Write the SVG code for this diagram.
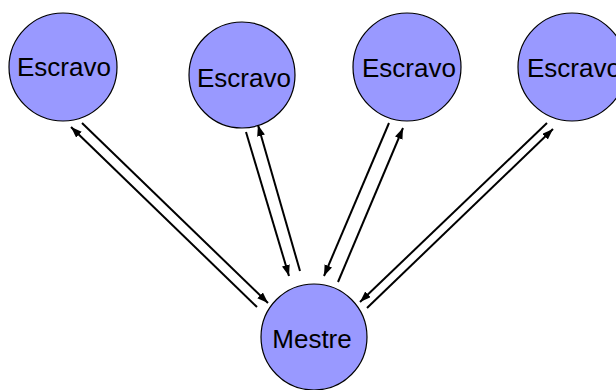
<svg xmlns="http://www.w3.org/2000/svg" width="616" height="390" viewBox="0 0 616 390">
<style>
.node circle{fill:#9999ff;stroke:#000;stroke-width:1.2}
.node text{font-family:"Liberation Sans",Arial,sans-serif;font-size:26px;fill:#000;text-anchor:middle}
.conn line{stroke:#000;stroke-width:2;marker-end:url(#ah)}
</style>
<defs>
<marker id="ah" markerUnits="userSpaceOnUse" markerWidth="12" markerHeight="9" refX="11" refY="4" orient="auto">
<path d="M0,0 L11,4 L0,8 Z" fill="#000"/>
</marker>
</defs>
<rect width="616" height="390" fill="#fff"/>
<g class="conn">
<line x1="257" y1="307" x2="71" y2="127"/>
<line x1="82" y1="123" x2="268" y2="303"/>
<line x1="246" y1="132" x2="289" y2="276"/>
<line x1="300" y1="271" x2="258" y2="125"/>
<line x1="389" y1="123" x2="324" y2="276"/>
<line x1="338" y1="282" x2="403" y2="128"/>
<line x1="547" y1="123" x2="360" y2="302"/>
<line x1="367" y1="308" x2="553" y2="129"/>
</g>
<g id="escravo1" class="node"><circle cx="63" cy="67" r="54"/><text x="64" y="76">Escravo</text></g>
<g id="escravo2" class="node"><circle cx="242" cy="75" r="53"/><text x="244" y="87">Escravo</text></g>
<g id="escravo3" class="node"><circle cx="407" cy="67" r="54"/><text x="409" y="77">Escravo</text></g>
<g id="escravo4" class="node"><circle cx="572" cy="67" r="54"/><text x="574" y="77">Escravo</text></g>
<g id="mestre" class="node"><circle cx="314" cy="337" r="53"/><text x="312" y="348">Mestre</text></g>
</svg>
